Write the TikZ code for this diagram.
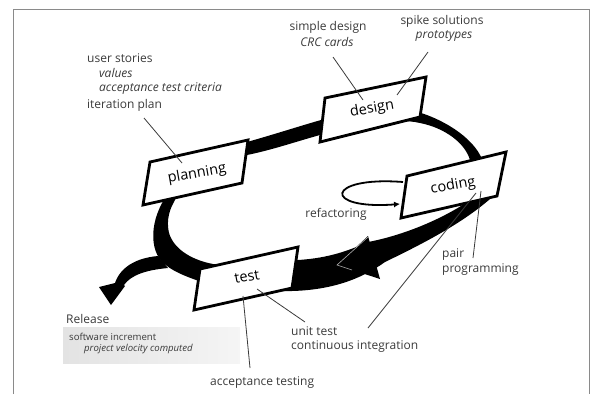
\documentclass[tikz,border=0pt]{standalone}
\usepackage{fontspec}
\setmainfont{Open Sans}
\usetikzlibrary{arrows.meta}
\definecolor{ink}{HTML}{3A3A3A}
\definecolor{rim}{HTML}{8A8A8A}
\newcommand{\lblfont}{\fontsize{12}{14}\selectfont}
\newcommand{\boxfont}{\fontsize{14.5}{16}\selectfont}
\newcommand{\relfont}{\fontsize{9.6}{11}\selectfont}

\begin{document}
\begin{tikzpicture}[x=1pt,y=-1pt,
		lbl/.style={text=ink,inner sep=0pt,font=\lblfont},
		boxlbl/.style={inner sep=0pt,font=\boxfont,rotate=10},
		stage/.style={draw=black,line width=2.8pt,fill=white,line join=miter},
		lead/.style={draw=ink,line width=0.8pt}]
		\useasboundingbox (0,0) rectangle (594,394);
		\draw[rim,line width=0.9pt] (13,394) -- (13,9) -- (589,9) -- (589,394);
		
		\fill[black,even odd rule]
			(167,266) .. controls (150,255) and (148,225) .. (165,198)
			.. controls (175,170) and (215,150) .. (247,142)
			.. controls (272,135) and (300,126) .. (321,120)
			.. controls (350,110) and (395,103) .. (418,112)
			.. controls (445,120) and (478,140) .. (484,165)
			.. controls (490,180) and (495,192) .. (490,199)
			.. controls (460,225) and (420,245) .. (385,262)
			.. controls (360,280) and (330,290) .. (292,291)
			.. controls (260,292) and (220,288) .. (196,280)
			.. controls (185,276) and (175,272) .. (167,266) -- cycle
			(213,264) .. controls (192,260) and (176,250) .. (170,236)
			.. controls (166,225) and (168,212) .. (174,202)
			.. controls (185,175) and (220,160) .. (247,155)
			.. controls (272,150) and (298,141) .. (320,135)
			.. controls (350,125) and (395,117) .. (420,123)
			.. controls (445,128) and (465,143) .. (470,160)
			.. controls (474,175) and (470,195) .. (461,206)
			.. controls (435,222) and (400,236) .. (368,242)
			.. controls (350,250) and (330,258) .. (298,260)
			.. controls (270,262) and (240,266) .. (213,264) -- cycle;
		
		\fill[black] (158,256) .. controls (135,258) and (120,268) .. (115,283) -- (99,287) -- (111,305) -- (125,286) -- (124,285) .. controls (131,275) and (146,270) .. (168,268) -- cycle;
		\fill[black] (337,265) -- (368,236) -- (380,279) -- cycle;
		\draw[gray!60,line width=0.6pt] (368,237) -- (337,265) -- (352,270);
		
		\draw[stage] (150,162) -- (248,140) -- (242,183) -- (143,205) -- cycle;
		\draw[stage] (325,98) -- (426,77) -- (420,117) -- (320,142) -- cycle;
		\draw[stage] (407,176) -- (506,152) -- (497,196) -- (401,218) -- cycle;
		\draw[stage] (200,269) -- (298,247) -- (292,288) -- (194,310) -- cycle;
		
		\node[boxlbl] (planning) at (197,174) {planning};
		\node[boxlbl] (design) at (372,109) {design};
		\node[boxlbl] (coding) at (453,186) {coding};
		\node[boxlbl] (test) at (247,277) {test};
		
		\draw[line width=1.8pt,-{Latex[length=6pt,width=6pt]}] (403,182) .. controls (325,176) and (322,210) .. (400,204);
		\node[lbl] (refac) at (336,214) {refactoring};
		
		\node[lbl,anchor=west] (stories) at (87,58) {user stories};
		\node[lbl,anchor=west] (values) at (99,73) {\itshape values};
		\node[lbl,anchor=west] (criteria) at (99,89) {\itshape acceptance test criteria};
		\node[lbl,anchor=west] (iterplan) at (87,105) {iteration plan};
		
		\node[lbl] (simple) at (328,27) {simple design};
		\node[lbl] (crc) at (327,42) {\itshape CRC cards};
		\node[lbl] (spike) at (442,21) {spike solutions};
		\node[lbl] (proto) at (444,36) {\itshape prototypes};
		
		\node[lbl,anchor=west] (pair) at (442,255) {pair};
		\node[lbl,anchor=west] (pairprog) at (442,270) {programming};
		
		\node[lbl,anchor=west] (unit) at (291,331) {unit test};
		\node[lbl,anchor=west] (contint) at (291,347) {continuous integration};
		\node[lbl,anchor=west] (acctest) at (210,383) {acceptance testing};
		
		\node[lbl,anchor=west] (release) at (66,319) {Release};
		\fill[left color=gray!22,right color=gray!8] (63,327) rectangle (240,363);
		\node[lbl,anchor=west,font=\relfont] (incr) at (69,337) {software increment};
		\node[lbl,anchor=west,font=\relfont] (velocity) at (84,349) {\itshape project velocity computed};
		
		\coordinate (a1) at (144,118);
		\coordinate (a2) at (182,163);
		\coordinate (b1) at (333,57);
		\coordinate (b2) at (363,100);
		\coordinate (c1) at (428,52);
		\coordinate (c2) at (397,95);
		\coordinate (d1) at (473,258);
		\coordinate (d2) at (481,191);
		\coordinate (e1) at (368,328);
		\coordinate (e2) at (476,193);
		\coordinate (f1) at (305,322);
		\coordinate (f2) at (257,289);
		\coordinate (g1) at (250,368);
		\coordinate (g2) at (243,296);
		\draw[lead] (a1) to (a2);
		\draw[lead] (b1) to (b2);
		\draw[lead] (c1) to (c2);
		\draw[lead] (d1) to (d2);
		\draw[lead] (e1) to (e2);
		\draw[lead] (f1) to (f2);
		\draw[lead] (g1) to (g2);
	\end{tikzpicture}
\end{document}
